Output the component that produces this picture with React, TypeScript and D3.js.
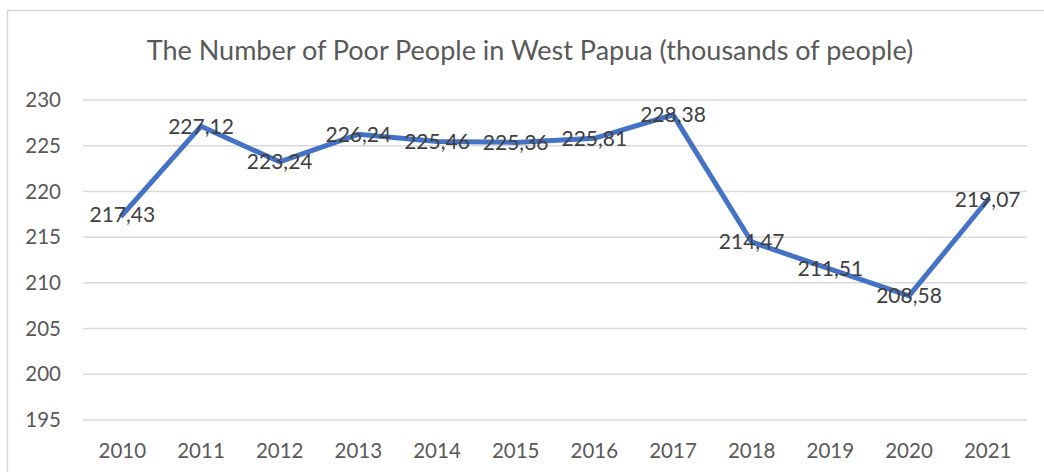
import React, { useEffect, useRef } from 'react';
import * as d3 from 'd3';

const years = ['2010', '2011', '2012', '2013', '2014', '2015', '2016', '2017', '2018', '2019', '2020', '2021'];
const poorPeople = [217.43, 227.12, 223.24, 226.24, 225.46, 225.36, 225.81, 228.38, 214.47, 211.51, 208.58, 219.07];
const yTicks = [195, 200, 205, 210, 215, 220, 225, 230];
const chartTitle = 'The Number of Poor People in West Papua (thousands of people)';

const W = 1044;
const H = 472;
const FONT = 'Lato, "Open Sans", sans-serif';

export default function App() {
  const svgRef = useRef<SVGSVGElement>(null);

  useEffect(() => {
    if (!svgRef.current) return;
    const svg = d3.select(svgRef.current);
    svg.selectAll('*').remove();

    const margin = { top: 100, right: 17, bottom: 52, left: 83 };
    const width = W - margin.left - margin.right;
    const height = H - margin.top - margin.bottom;

    // chart frame (only top and left edges are inside the picture)
    svg.append('path')
      .attr('d', `M7.5,${H} V10.5 H${W}`)
      .attr('fill', 'none')
      .attr('stroke', '#d9d9d9')
      .attr('stroke-width', 1.5);

    svg.append('text')
      .attr('x', 530)
      .attr('y', 60)
      .attr('text-anchor', 'middle')
      .style('font-family', FONT)
      .style('font-size', '27px')
      .style('fill', '#595959')
      .text(chartTitle);

    const g = svg.append('g').attr('transform', `translate(${margin.left},${margin.top})`);

    const x = d3.scaleBand<string>().domain(years).range([0, width]);
    const y = d3.scaleLinear().domain([195, 230]).range([height, 0]);

    // gridlines
    g.selectAll('.grid')
      .data(yTicks)
      .enter()
      .append('line')
      .attr('x1', 0)
      .attr('x2', width)
      .attr('y1', d => y(d))
      .attr('y2', d => y(d))
      .attr('stroke', '#d9d9d9')
      .attr('stroke-width', 1.5);

    // y labels
    g.selectAll('.ylab')
      .data(yTicks)
      .enter()
      .append('text')
      .attr('x', -22)
      .attr('y', d => y(d))
      .attr('dy', '0.35em')
      .attr('text-anchor', 'end')
      .style('font-family', FONT)
      .style('font-size', '20.5px')
      .style('fill', '#595959')
      .text(d => d);

    // x labels
    g.selectAll('.xlab')
      .data(years)
      .enter()
      .append('text')
      .attr('x', d => (x(d) || 0) + x.bandwidth() / 2)
      .attr('y', height + 31)
      .attr('dy', '0.35em')
      .attr('text-anchor', 'middle')
      .style('font-family', FONT)
      .style('font-size', '20.5px')
      .style('fill', '#595959')
      .text(d => d);

    const cx = (i: number) => (x(years[i]) || 0) + x.bandwidth() / 2;

    const line = d3.line<number>()
      .x((_, i) => cx(i))
      .y(d => y(d));

    g.append('path')
      .datum(poorPeople)
      .attr('d', line)
      .attr('fill', 'none')
      .attr('stroke', '#4472c4')
      .attr('stroke-width', 5)
      .attr('stroke-linejoin', 'miter')
      .attr('stroke-linecap', 'square');

    // data labels, centred on points
    g.selectAll('.dlab')
      .data(poorPeople)
      .enter()
      .append('text')
      .attr('x', (_, i) => cx(i))
      .attr('y', d => y(d))
      .attr('dy', '0.35em')
      .attr('text-anchor', 'middle')
      .style('font-family', FONT)
      .style('font-size', '21px')
      .style('fill', '#404040')
      .text(d => d.toFixed(2).replace('.', ','));
  }, []);

  return (
    <svg
      ref={svgRef}
      width={W}
      height={H}
      style={{ position: 'absolute', left: 0, top: 0, background: '#fff' }}
    />
  );
}
